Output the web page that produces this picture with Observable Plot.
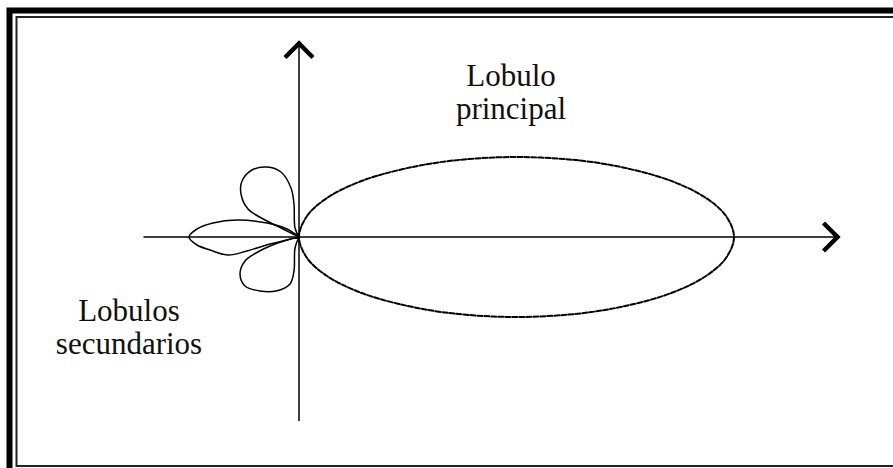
<!DOCTYPE html>
<html>
<head>
<meta charset="utf-8">
<script src="https://cdn.jsdelivr.net/npm/d3@7"></script>
<script src="https://cdn.jsdelivr.net/npm/@observablehq/plot@0.6"></script>
<style>
  html, body { margin: 0; padding: 0; background: white; }
  #chart svg { display: block; }
</style>
</head>
<body>
<div id="chart"></div>
<script>
// Radiation pattern, coordinates relative to the antenna (origin), y upwards
const mainLobeX = [0, 8, 28, 60, 100, 150, 217, 285, 335, 375, 407, 427, 435, 427, 407, 375, 335, 285, 217, 150, 100, 60, 28, 8];
const mainLobeY = [0, 21, 39, 55, 67, 76, 80, 76, 67, 55, 39, 21, 0, -21, -39, -55, -67, -76, -80, -76, -67, -55, -39, -21];

const backLobeX = [0, -12, -32, -62, -86, -102, -110, -102, -89, -71, -52, -29, -12, 0];
const backLobeY = [0, 8, 14, 17, 14, 8, 0, -8, -13, -18, -14, -7, -3, 0];

const upperLobeX = [0, -4, -5, -8, -18, -32, -47, -57, -58, -51, -32, -16, 0];
const upperLobeY = [0, 9, 33, 49, 65, 70, 67, 56, 43, 28, 16, 8, 0];

const lowerLobeX = [0, -4, -5, -9, -23, -39, -54, -59, -54, -43, -29, -12, 0];
const lowerLobeY = [0, -11, -34, -47, -54, -54, -49, -37, -24, -16, -9, -3, 0];

// Axes extents
const xAxisRange = [-155, 538.5];
const yAxisRange = [-184.5, 193.5];

// Labels
const labels = ["Lobulo\nprincipal", "Lobulos\nsecundarios"];
const labelX = [212, -170];
const labelY = [118.5, -116.5];

const toPts = (xs, ys) => xs.map((x, i) => ({x, y: ys[i]}));
const mainLobe = toPts(mainLobeX, mainLobeY);
const sideLobes = [
  ...toPts(backLobeX, backLobeY).map(d => ({...d, lobe: "back"})),
  ...toPts(upperLobeX, upperLobeY).map(d => ({...d, lobe: "upper"})),
  ...toPts(lowerLobeX, lowerLobeY).map(d => ({...d, lobe: "lower"}))
];
const labelData = labels.map((t, i) => ({t, x: labelX[i], y: labelY[i]}));
const arrowHeads = [
  {x: xAxisRange[1], y: 0, rot: 0},
  {x: 0, y: yAxisRange[1], rot: -90}
];

const chevron = {
  draw(context, size) {
    const s = Math.sqrt(size / Math.PI);
    context.moveTo(-s, -s);
    context.lineTo(0, 0);
    context.lineTo(-s, s);
  }
};

const W = 893, H = 468;
const plot = Plot.plot({
  width: W,
  height: H,
  margin: 0,
  x: {domain: [-298.5, W - 298.5], axis: null},
  y: {domain: [236.5 - H, 236.5], axis: null},
  marks: [
    Plot.frame({stroke: "black", strokeWidth: 6, insetLeft: 9, insetTop: 10, insetRight: -20, insetBottom: -8}),
    Plot.frame({stroke: "#222", strokeWidth: 2, insetLeft: 16, insetTop: 16.5, insetRight: -20, insetBottom: 2.5}),
    Plot.ruleY([0], {x1: xAxisRange[0], x2: xAxisRange[1], stroke: "black", strokeWidth: 1.5}),
    Plot.ruleX([0], {y1: yAxisRange[0], y2: yAxisRange[1], stroke: "black", strokeWidth: 1.5}),
    Plot.line(mainLobe, {x: "x", y: "y", curve: "catmull-rom-closed", stroke: "black", strokeWidth: 2, strokeDasharray: "5,2"}),
    Plot.line(sideLobes, {x: "x", y: "y", z: "lobe", curve: "catmull-rom", stroke: "black", strokeWidth: 1.5}),
    Plot.dot(arrowHeads, {x: "x", y: "y", rotate: "rot", symbol: chevron, r: 14, fill: "none", stroke: "black", strokeWidth: 4.5, strokeLinejoin: "miter"}),
    Plot.text(labelData, {x: "x", y: "y", text: "t", textAnchor: "middle", lineAnchor: "bottom", lineHeight: 1.06, fontSize: 31, fontFamily: "'Liberation Serif', 'Times New Roman', serif", fill: "#111"})
  ]
});
document.getElementById("chart").appendChild(plot);
</script>
</body>
</html>
